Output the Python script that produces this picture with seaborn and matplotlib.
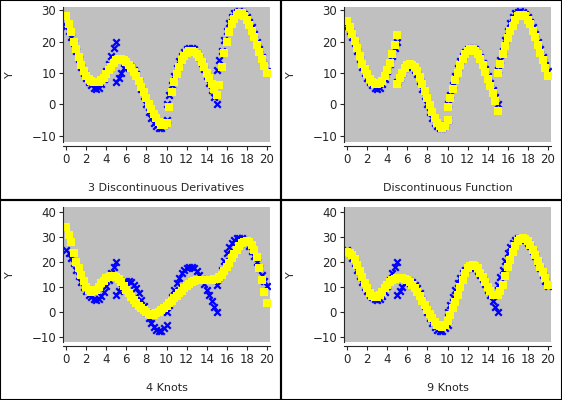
import matplotlib
matplotlib.use("Agg")
import matplotlib.pyplot as plt
import numpy as np
import pandas as pd
import seaborn as sns
from matplotlib.patches import Rectangle

# x grid: four 5-unit segments, 21 samples each (endpoints repeated for jumps)
seg_starts = [0, 5, 10, 15]

data_y = [25, 23.5, 21.5, 19.5, 17, 14.5, 12, 10, 8.3, 7, 6, 5.3, 5, 5.3, 6.5, 8, 10.5, 13, 15.5, 18, 20,
          7, 8.5, 10, 11.5, 12.3, 12.5, 12, 11, 9.5, 7.5, 5, 2.5, 0, -2.3, -4.3, -6, -7, -7.5, -7.5, -6.5, -5,
          0, 3, 6, 9, 11.5, 13.8, 15.5, 16.8, 17.6, 18, 18, 17.5, 16.5, 15, 13.3, 11.3, 9, 6.8, 4.5, 2.2, 0,
          11, 14, 17, 20.5, 23.5, 26, 27.8, 29, 29.5, 29.7, 29.5, 28.8, 27.8, 26.3, 24.5, 22.3, 20, 17.5, 15, 12.5, 10.5]

fit_disc_deriv = [28, 25.5, 23, 20, 17.5, 15, 12.5, 10.5, 9, 8, 7.3, 7, 7, 7.2, 7.8, 8.5, 9.5, 10.8, 12, 13.2, 14,
                  14, 14.4, 14.5, 14.2, 13.5, 12.6, 11.5, 10.3, 9, 7.3, 5.5, 3.8, 2, 0.2, -1.5, -3, -4.5, -5.7, -6.5, -6.6, -6,
                  -6, -1, 4, 7, 9.5, 11.8, 14, 15.5, 16.5, 17, 17, 16.7, 16, 15, 13.5, 11.8, 10, 8.3, 6.5, 4.8, 3,
                  3, 6, 12, 16.5, 20, 23, 25.5, 27.2, 28.5, 29, 29, 28.2, 27, 25.4, 23.5, 21.3, 19, 16.8, 14.5, 12.2, 10]

fit_disc_func = [26.5, 24.5, 22.5, 20.2, 18, 15.5, 13, 11.2, 9.5, 8, 7, 6.5, 6.5, 6.8, 7.5, 9, 11, 13.3, 16, 19, 22,
                 6.5, 8.5, 10, 11.5, 12.5, 12.8, 12.5, 11.8, 10.5, 8.7, 6.5, 4.3, 2, -0.3, -2.5, -4.3, -6, -7, -7.5, -7, -5,
                 -1, 2, 5, 7.7, 10, 12.5, 14.5, 16, 17, 17.5, 17.5, 17, 16, 14.5, 12.5, 10.3, 8, 5.8, 3.5, 1, -2,
                 10, 13, 16, 18.5, 21, 23.3, 25, 26.7, 28, 28.5, 28.5, 28, 27, 25.5, 23.5, 21.5, 19, 16.5, 14, 11.5, 9]

fit_4knots = [34, 31, 28, 23.5, 20, 17.5, 15, 12.5, 10, 8.8, 8, 8.3, 9, 10.2, 11.5, 12.6, 13.5, 14.2, 14.5, 14.4, 14,
              14, 13.2, 12, 10.6, 9, 7.5, 6, 4.7, 3.5, 2.4, 1.5, 0.7, 0, -0.6, -1, -1, -0.5, 0, 0.8, 1.6, 2.5,
              2.5, 3.5, 4.5, 5.5, 6.5, 7.5, 8.5, 9.5, 10.5, 11.3, 12, 12.4, 12.7, 12.9, 13, 13, 13, 13, 13, 13.1, 13.3,
              13.3, 14, 15, 16.5, 18, 19.7, 21.5, 23.2, 25, 26.3, 27.5, 28.2, 28.5, 28.2, 27, 25, 22, 17.5, 13, 8, 3.5]

fit_9knots = [24, 23.7, 23, 21.2, 19, 16.5, 14, 11.7, 9.5, 7.8, 6.5, 6, 6, 6.8, 8, 9.5, 11, 12.2, 13, 13.4, 13.5,
              13.5, 13.5, 13.5, 13.3, 13, 12.2, 11, 9.7, 8, 6.3, 4.5, 2.7, 1, -0.8, -2.5, -3.8, -5, -5.7, -6, -5, -3.5,
              -3.5, -1, 1.5, 4.2, 7, 10, 13, 15.5, 17.5, 18.5, 19, 18.5, 17.5, 15.8, 14, 12, 10, 8.3, 7, 6.8, 7,
              7, 8.5, 11, 14.5, 18, 21, 24, 26.5, 28.5, 29.2, 29.5, 29.2, 28.5, 27, 25, 22.8, 20.5, 18.2, 16, 13.5, 11]

titles = ["3 Discontinuous Derivatives", "Discontinuous Function", "4 Knots", "9 Knots"]
fits = [fit_disc_deriv, fit_disc_func, fit_4knots, fit_9knots]
yticks_top = [-10, 0, 10, 20, 30]
yticks_bot = [-10, 0, 10, 20, 30, 40]

x = np.concatenate([np.linspace(s, s + 5, 21) for s in seg_starts])

sns.set_style("white")
plt.rcParams['font.family'] = ['DejaVu Sans']

fig = plt.figure(figsize=(5.62, 4.0), dpi=100)

# panel boxes in pixels: (left, top) of gray area
boxes = [(63, 7), (344, 7), (63, 207), (344, 207)]
W, H = 207, 135

for i, (title, fit) in enumerate(zip(titles, fits)):
    l, t = boxes[i]
    ax = fig.add_axes([l / 562, 1 - (t + H) / 400, W / 562, H / 400])
    ax.set_facecolor("#c0c0c0")
    df = pd.DataFrame({"x": x, "data": data_y, "fit": fit})
    sns.scatterplot(data=df, x="x", y="data", marker="x", color="#0000ff",
                    s=22, linewidth=1.6, ax=ax)
    sns.scatterplot(data=df, x="x", y="fit", marker="s", color="#ffff00",
                    s=30, linewidth=0, ax=ax)
    ax.set_xlim(-0.3, 20.3)
    if i < 2:
        ax.set_ylim(-12, 31)
        ax.set_yticks(yticks_top)
    else:
        ax.set_ylim(-12, 42)
        ax.set_yticks(yticks_bot)
    ax.set_xticks(range(0, 21, 2))
    ax.set_xlabel(title, fontsize=8, labelpad=12)
    ax.set_ylabel("Y", fontsize=8, labelpad=12)
    for s in ["top", "right"]:
        ax.spines[s].set_visible(False)
    ax.spines["bottom"].set_position(("outward", 3))
    ax.spines["left"].set_linewidth(0.8)
    ax.spines["bottom"].set_linewidth(0.8)
    ax.tick_params(axis="both", labelsize=8.5, length=3, width=0.8, direction="out",
                   bottom=True, left=True, pad=2)

# cell borders
for (cx, cy) in [(0, 0), (281, 0), (0, 200), (281, 200)]:
    fig.add_artist(Rectangle((cx / 562, 1 - (cy + 200) / 400), 281 / 562, 200 / 400,
                             transform=fig.transFigure, fill=False, edgecolor="black",
                             linewidth=1.5))

fig.savefig("out.png", dpi=100)
